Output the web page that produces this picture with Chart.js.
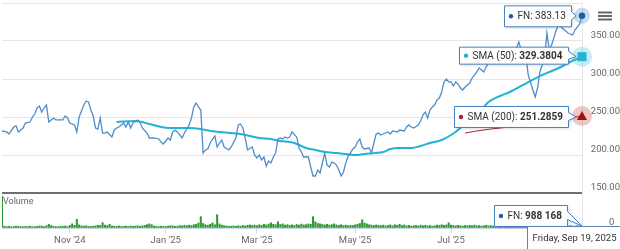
<!DOCTYPE html>
<html lang="en">
<head>
<meta charset="UTF-8">
<title>FN</title>
<script src="https://cdn.jsdelivr.net/npm/chart.js"></script>
<style>
  body { margin: 0; background: #fff; }
  #wrap { position: relative; width: 620px; height: 249px; }
</style>
</head>
<body>
<div id="wrap"><canvas id="chart" width="620" height="249"></canvas></div>
<script>
// trading-day index (0 = Sep 19 2024 ... 250 = Sep 19 2025)
const priceDays = [2,4,5,7,8,9,10,11,12,14,15,16,17,18,19,20,21,22,24,25,27,28,29,30,31,33,34,35,37,38,39,40,41,42,43,44,45,46,47,49,50,51,52,54,55,56,57,58,60,61,62,64,65,67,69,70,71,73,74,75,76,77,79,80,82,83,84,85,86,87,88,89,90,91,93,94,95,96,97,99,100,102,103,104,105,106,107,109,110,111,112,113,114,115,116,117,118,119,120,121,122,123,124,125,126,128,129,130,131,132,133,134,135,136,137,138,139,140,141,142,143,144,145,146,147,148,149,150,151,152,153,154,155,156,157,159,160,161,162,163,164,165,167,168,169,171,172,174,175,176,177,178,180,181,182,183,184,185,186,187,188,189,190,191,192,193,194,195,196,197,198,199,200,202,203,205,206,208,209,211,213,215,217,220,222,223,224,226,227,229,230,231,232,234,235,236,237,239,240,241,243,244,246,247,249,250];
const priceClose = [231.6,230.3,227.6,236.8,238.2,230.3,232.9,235.5,242.1,243.4,250.0,253.9,261.8,264.5,256.6,261.8,265.8,243.4,248.7,246.1,246.1,246.1,251.3,248.7,242.1,239.5,230.3,250.0,265.8,271.1,269.7,259.2,251.3,235.5,234.2,248.7,228.9,228.9,230.3,223.7,232.9,235.5,236.8,242.1,236.8,243.4,235.5,242.1,246.1,243.4,235.5,228.9,222.4,222.4,221.1,217.1,214.5,222.4,219.7,230.3,232.9,230.3,222.4,228.9,239.5,248.7,263.2,268.4,263.2,259.2,202.6,206.6,207.9,215.8,225.0,210.5,215.8,219.7,210.5,206.6,210.5,222.4,239.5,240.8,235.5,222.0,206.6,210.5,200.0,196.1,200.0,193.4,197.4,185.5,192.1,189.5,197.4,202.6,221.1,222.4,221.1,223.7,222.4,223.7,230.3,223.7,209.2,203.9,197.4,197.4,197.4,184.2,172.4,172.4,180.3,176.3,189.5,202.6,186.8,184.2,190.8,189.5,186.8,180.3,172.4,177.6,189.5,198.7,202.6,207.9,210.5,217.1,221.1,210.5,207.9,209.2,202.6,215.8,227.6,228.9,226.3,227.6,230.3,227.6,231.6,230.3,232.9,231.6,236.8,239.5,236.8,235.5,239.5,244.7,252.6,256.6,248.7,259.2,263.2,265.8,272.4,275.0,282.9,296.1,300.0,296.1,296.1,290.8,296.1,293.4,288.2,285.5,289.5,294.7,301.3,309.2,314.5,309.2,315.8,325.0,327.6,328.9,331.6,335.5,340.8,348.7,338.2,331.6,305.3,285.5,276.3,288.2,309.2,327.6,360.5,338.2,344.7,364.5,371.1,368.4,363.2,360.5,357.9,364.5,372.4,383.13];

const sma50Days = [51,59,65,70,74,78,82,87,91,95,100,104,108,112,117,121,125,127,132,136,140,145,149,153,157,162,165,168,172,177,181,185,190,194,198,202,207,210,215,220,224,228,232,237,241,245,250];
const sma50Vals = [243.4,244.7,240.8,236.8,235.5,235.5,235.5,234.2,231.6,230.3,228.9,227.6,225.0,222.4,221.1,218.4,217.1,215.8,209.2,206.6,203.9,202.6,201.3,200.0,201.3,202.6,203.9,207.9,209.2,209.2,211.8,215.8,219.7,226.3,235.5,248.7,259.2,269.7,277.6,284.2,290.8,297.4,303.9,310.5,315.8,322.4,329.3804];

const sma200Days = [200,205,211,219,228,239,250];
const sma200Vals = [228.9,231.6,234.2,236.8,240.8,246.1,251.2859];

// daily volume in millions, days 2..250
const volumeFirstDay = 2;
const volumeM = [
  15.5,0.9,0.7,0.8,0.6,0.7,0.9,0.8,0.7,0.6,
  0.8,0.7,0.9,0.6,0.7,0.8,1.0,0.9,0.7,1.1,
  1.8,1.2,0.8,0.7,0.6,0.9,0.8,1.0,0.7,1.2,
  2.0,1.3,4.2,1.5,1.0,0.9,1.1,0.8,0.7,0.9,
  1.0,1.3,1.2,2.6,1.4,1.1,1.8,1.0,0.9,0.8,
  1.0,0.7,0.8,0.9,0.7,1.0,0.8,0.9,1.1,0.8,
  1.0,1.3,1.6,2.0,1.6,1.0,0.8,0.7,0.9,0.8,
  0.7,0.9,1.1,1.0,0.8,0.9,1.2,1.0,1.3,1.1,
  1.4,1.2,1.6,1.8,2.4,5.5,2.2,1.6,1.3,1.8,
  2.5,1.6,6.5,2.0,1.4,1.1,1.0,0.8,0.9,1.0,
  0.8,1.1,0.9,1.2,1.0,1.3,1.5,1.2,1.4,1.1,
  1.6,1.3,1.8,1.5,1.9,2.5,1.8,1.6,3.0,1.7,
  2.0,1.4,1.6,1.3,1.5,1.2,1.7,1.4,1.9,1.5,
  1.6,2.0,1.8,5.5,3.0,2.2,2.0,1.7,1.5,1.8,
  1.4,1.6,2.0,1.5,1.3,1.6,1.2,1.4,1.1,1.3,
  1.2,1.5,1.8,2.2,4.0,2.4,2.0,1.6,1.4,1.2,
  1.5,1.3,1.1,1.4,1.0,1.2,1.5,1.1,1.6,1.3,
  1.8,1.2,1.5,1.0,1.3,0.9,1.1,1.2,1.0,1.4,
  1.1,1.3,1.0,1.2,0.9,1.1,1.4,1.2,1.6,1.3,
  1.5,2.5,1.4,1.2,1.0,1.3,1.1,0.9,1.2,1.0,
  1.3,1.1,1.4,1.0,1.2,0.9,1.1,1.3,1.0,1.2,
  0.9,1.1,1.0,1.2,0.8,1.0,1.1,0.9,1.2,1.0,
  1.1,0.9,1.3,1.0,1.2,1.4,1.1,1.0,0.9,1.2,
  1.0,1.1,0.9,1.3,1.0,1.2,0.9,1.1,1.0,0.9,
  1.1,1.0,0.9,1.2,1.0,0.9,1.1,1.0,0.988168
];

const monthTicks = [31, 72, 111, 153, 194, 237];
const monthLabels = ["Nov '24", "Jan '25", "Mar '25", "May '25", "Jul '25", "Sep '25"];
const priceTicks = [150, 200, 250, 300, 350, 400];
const lastDateLabel = 'Friday, Sep 19, 2025';

const FONT = 'Roboto, "Liberation Sans", Arial, sans-serif';
const C_PRICE = '#4f8dca';
const C_SMA50 = '#22b2d5';
const C_SMA200 = '#a3262a';
const C_VOL = '#2f9a2f';
const C_BOX = '#4682c0';

Chart.defaults.font.family = FONT;
Chart.defaults.color = '#666';

function pts(days, vals) { return days.map((d, i) => ({ x: d, y: vals[i] })); }
function fmtVol(m) { return Math.round(m * 1e6).toString().replace(/\B(?=(\d{3})+(?!\d))/g, ' '); }

function drawBox(ctx, o) {
  ctx.save();
  let w = 0;
  o.parts.forEach(p => {
    ctx.font = (p.bold ? 'bold ' : '') + o.size + 'px ' + FONT;
    p.w = ctx.measureText(p.text).width;
    w += p.w;
  });
  const padL = o.dot ? 13 : 5, padR = 6;
  const right = o.right + 0.5;
  const left = Math.round(o.right - w - padL - padR) + 0.5;
  const top = o.top + 0.5, bottom = o.top + o.h + 0.5;
  const cy = o.top + o.h / 2;
  ctx.beginPath();
  ctx.moveTo(left, top);
  ctx.lineTo(right, top);
  if (o.anchor) {
    ctx.lineTo(right, cy - 4);
    ctx.lineTo(o.anchor.x, o.anchor.y);
    ctx.lineTo(right, cy + 4);
  }
  ctx.lineTo(right, bottom);
  ctx.lineTo(left, bottom);
  ctx.closePath();
  ctx.shadowColor = 'rgba(0,0,0,0.18)';
  ctx.shadowBlur = 3;
  ctx.shadowOffsetX = 1;
  ctx.shadowOffsetY = 1;
  ctx.fillStyle = 'rgba(255,255,255,0.96)';
  ctx.fill();
  ctx.shadowColor = 'transparent';
  ctx.strokeStyle = o.border;
  ctx.lineWidth = 1;
  ctx.stroke();
  if (o.dot) {
    ctx.beginPath();
    ctx.arc(left + 6.5, cy + 0.5, 2.2, 0, Math.PI * 2);
    ctx.fillStyle = o.dot;
    ctx.fill();
  }
  let x = left + padL;
  ctx.textBaseline = 'middle';
  ctx.fillStyle = '#333';
  o.parts.forEach(p => {
    ctx.font = (p.bold ? 'bold ' : '') + o.size + 'px ' + FONT;
    ctx.fillText(p.text, x, cy + 1);
    x += p.w;
  });
  ctx.restore();
}

const overlay = {
  id: 'overlay',
  afterDatasetsDraw(chart) {
    const ctx = chart.ctx;
    const last = i => { const d = chart.getDatasetMeta(i).data; return d[d.length - 1]; };
    const p0 = last(0), p1 = last(1), p2 = last(2);
    ctx.save();
    // halos
    [[p0, 'rgba(79,141,202,0.3)', 8], [p1, 'rgba(34,178,213,0.25)', 10], [p2, 'rgba(200,70,70,0.3)', 10]].forEach(([p, c, r]) => {
      ctx.beginPath(); ctx.arc(p.x, p.y, r, 0, Math.PI * 2); ctx.fillStyle = c; ctx.fill();
    });
    ctx.beginPath(); ctx.arc(p0.x, p0.y, 3.2, 0, Math.PI * 2); ctx.fillStyle = '#1c5ea6'; ctx.fill();
    ctx.fillStyle = C_SMA50; ctx.fillRect(p1.x - 4.5, p1.y - 4.5, 9, 9);
    ctx.beginPath(); ctx.moveTo(p2.x, p2.y - 5); ctx.lineTo(p2.x + 5, p2.y + 4); ctx.lineTo(p2.x - 5, p2.y + 4); ctx.closePath();
    ctx.fillStyle = '#9a1212'; ctx.fill();
    ctx.restore();
  },
  afterDraw(chart) {
    const ctx = chart.ctx;
    const area = chart.chartArea;
    const last = i => { const d = chart.getDatasetMeta(i).data; return d[d.length - 1]; };
    const p0 = last(0), p1 = last(1), p2 = last(2);
    const volY = chart.scales.yVol;

    ctx.save();
    ctx.font = '9px ' + FONT;
    ctx.fillStyle = '#666';
    ctx.textBaseline = 'top';
    ctx.fillText('Volume', area.left + 1, volY.top + 4);
    // menu icon
    ctx.fillStyle = '#666';
    [11.5, 15, 18.5].forEach(y => ctx.fillRect(598, y, 14, 2));
    ctx.restore();

    drawBox(ctx, { right: p0.x - 11, top: p0.y - 10.5, h: 21, size: 10, dot: '#1c5ea6', border: C_BOX,
      anchor: { x: p0.x - 6, y: p0.y }, parts: [{ text: 'FN: ' + priceClose[priceClose.length - 1].toFixed(2) }] });
    drawBox(ctx, { right: p1.x - 14, top: p1.y - 10, h: 17, size: 10, dot: C_SMA50, border: C_BOX,
      anchor: { x: p1.x - 6, y: p1.y }, parts: [{ text: 'SMA (50): ' }, { text: sma50Vals[sma50Vals.length - 1].toFixed(4), bold: true }] });
    drawBox(ctx, { right: p2.x - 14, top: p2.y - 10, h: 21, size: 10, dot: C_SMA200, border: C_BOX,
      anchor: { x: p2.x - 6, y: p2.y + 1 }, parts: [{ text: 'SMA (200): ' }, { text: sma200Vals[sma200Vals.length - 1].toFixed(4), bold: true }] });
    drawBox(ctx, { right: 567, top: volY.top + 12, h: 21, size: 10, dot: '#1c5ea6', border: C_BOX,
      anchor: { x: p0.x, y: volY.bottom - 2 }, parts: [{ text: 'FN: ' }, { text: fmtVol(volumeM[volumeM.length - 1]), bold: true }] });
    drawBox(ctx, { right: 622, top: area.bottom - 2, h: 23, size: 9.5, border: '#5b84b3',
      parts: [{ text: lastDateLabel }] });
  }
};

new Chart(document.getElementById('chart'), {
  type: 'line',
  data: {
    datasets: [
      { label: 'FN', data: pts(priceDays, priceClose), borderColor: C_PRICE, borderWidth: 1.3, pointRadius: 0, yAxisID: 'y', order: 1 },
      { label: 'SMA (50)', data: pts(sma50Days, sma50Vals), borderColor: C_SMA50, borderWidth: 2, pointRadius: 0, cubicInterpolationMode: 'monotone', yAxisID: 'y', order: 2 },
      { label: 'SMA (200)', data: pts(sma200Days, sma200Vals), borderColor: C_SMA200, borderWidth: 1, pointRadius: 0, yAxisID: 'y', order: 3 },
      { type: 'bar', label: 'Volume', data: volumeM.map((v, i) => ({ x: volumeFirstDay + i, y: v })), backgroundColor: C_VOL, barThickness: 1.4, yAxisID: 'yVol', order: 4 }
    ]
  },
  options: {
    responsive: false,
    animation: false,
    events: [],
    layout: { padding: { top: 3, left: 2, right: 0, bottom: 0 } },
    plugins: { legend: { display: false }, tooltip: { enabled: false } },
    scales: {
      x: {
        type: 'linear', min: 2, max: 250, offset: false,
        afterBuildTicks: s => { s.ticks = monthTicks.map(v => ({ value: v })); },
        ticks: { callback: v => { const k = monthTicks.indexOf(v); return k < 0 ? '' : monthLabels[k]; }, maxRotation: 0, autoSkip: false, padding: 2, font: { size: 9.5 } },
        grid: { offset: false, drawOnChartArea: false, drawTicks: true, tickLength: 5, tickColor: '#ccd6eb' },
        border: { color: '#ccd6eb' },
        afterFit: s => { s.height = 21; s.paddingLeft = 0; s.paddingRight = 0; }
      },
      y: {
        position: 'right', stack: 'main', stackWeight: 190,
        min: 150, max: 400,
        afterBuildTicks: s => { s.ticks = priceTicks.map(v => ({ value: v })); },
        ticks: { callback: v => v === 400 ? '' : v.toFixed(2), labelOffset: -5, crossAlign: 'far', padding: 4, font: { size: 9.5 } },
        grid: { color: c => c.tick && c.tick.value === 150 ? '#707070' : '#e6e6e6', lineWidth: c => c.tick && c.tick.value === 150 ? 2 : 1, drawTicks: false },
        border: { color: '#e6e6e6' },
        afterFit: s => { s.width = 38; s.paddingTop = 0; s.paddingBottom = 0; }
      },
      yVol: {
        position: 'right', stack: 'main', stackWeight: 35,
        min: 0, max: 17,
        afterBuildTicks: s => { s.ticks = [{ value: 0 }]; },
        ticks: { callback: () => '0', labelOffset: -5, crossAlign: 'near', padding: 27, font: { size: 9.5 } },
        grid: { drawOnChartArea: false, drawTicks: false },
        border: { color: '#e6e6e6' },
        afterFit: s => { s.width = 38; s.paddingTop = 0; s.paddingBottom = 0; }
      }
    }
  },
  plugins: [overlay]
});
</script>
</body>
</html>
